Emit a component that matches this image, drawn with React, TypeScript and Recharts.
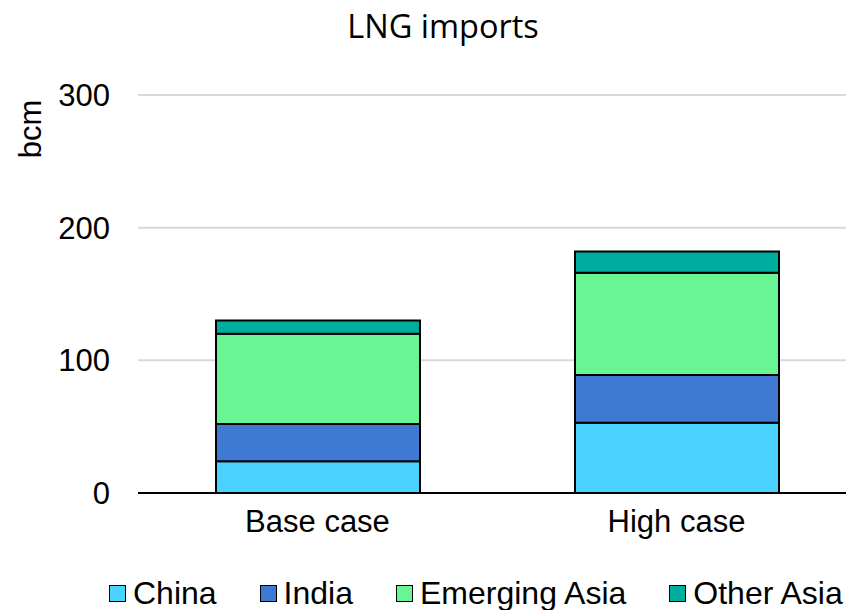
import React from 'react';
import { BarChart, Bar, XAxis, YAxis, CartesianGrid, Legend } from 'recharts';

// Scenario categories
const cases = ['Base case', 'High case'];

// LNG import volumes by region (bcm)
const china = [24, 53];
const india = [28, 36];
const emergingAsia = [68, 77];
const otherAsia = [10, 16];

const yTicks = [0, 100, 200, 300];

const seriesNames = ['China', 'India', 'Emerging Asia', 'Other Asia'];
const seriesKeys = ['china', 'india', 'emergingAsia', 'otherAsia'];
const seriesColors = ['#4AD3FF', '#3E7AD3', '#69F593', '#00AEA0'];

const rows = cases.map((name, i) => ({
  name,
  china: china[i],
  india: india[i],
  emergingAsia: emergingAsia[i],
  otherAsia: otherAsia[i],
}));

const FONT = '"Liberation Sans", Arial, sans-serif';

const LegendContent = () => (
  <div
    style={{
      display: 'flex',
      height: 30,
      paddingLeft: 109,
      gap: 43,
      fontFamily: FONT,
      fontSize: 32,
      lineHeight: '30px',
      color: '#000',
      whiteSpace: 'nowrap',
    }}
  >
    {seriesNames.map((n, i) => (
      <div key={n} style={{ display: 'flex', alignItems: 'flex-start' }}>
        <span
          style={{
            display: 'inline-block',
            width: 17,
            height: 17,
            marginTop: 7,
            marginRight: 7,
            boxSizing: 'border-box',
            border: '1.5px solid #000',
            background: seriesColors[i],
          }}
        />
        <span>{n}</span>
      </div>
    ))}
  </div>
);

export default function App() {
  return (
    <div style={{ position: 'absolute', left: 0, top: 0, width: 846, height: 610, overflow: 'hidden', background: '#fff' }}>
      <BarChart
        width={856}
        height={610}
        data={rows}
        margin={{ top: 95, right: 0, bottom: 27, left: 0 }}
        barSize={204}
      >
        <CartesianGrid vertical={false} stroke="#d9d9d9" strokeWidth={2} />
        <XAxis
          dataKey="name"
          height={60}
          axisLine={{ stroke: '#000', strokeWidth: 2 }}
          tickLine={false}
          tickSize={0}
          tickMargin={17}
          tick={{ fill: '#000', fontSize: 31, fontFamily: FONT }}
        />
        <YAxis
          width={138}
          domain={[0, 300]}
          ticks={yTicks}
          axisLine={false}
          tickLine={false}
          tickSize={0}
          tickMargin={28}
          tick={{ fill: '#000', fontSize: 31, fontFamily: FONT }}
        />
        <Legend
          verticalAlign="bottom"
          content={LegendContent}
          wrapperStyle={{ left: 0, bottom: 2, width: 846, height: 30 }}
        />
        {seriesKeys.map((k, i) => (
          <Bar
            key={k}
            dataKey={k}
            name={seriesNames[i]}
            stackId="lng"
            fill={seriesColors[i]}
            stroke="#000"
            strokeWidth={2}
            isAnimationActive={false}
          />
        ))}
      </BarChart>
      <svg
        width={846}
        height={610}
        style={{ position: 'absolute', left: 0, top: 0, pointerEvents: 'none' }}
      >
        <text x={443} y={38} textAnchor="middle" fontSize={32.5} fontFamily='"Open Sans", "Noto Sans", sans-serif' fill="#000">
          LNG imports
        </text>
        <text
          x={0}
          y={0}
          transform="translate(41 129) rotate(-90)"
          textAnchor="middle"
          fontSize={31}
          fontFamily={FONT}
          fill="#000"
        >
          bcm
        </text>
      </svg>
    </div>
  );
}
